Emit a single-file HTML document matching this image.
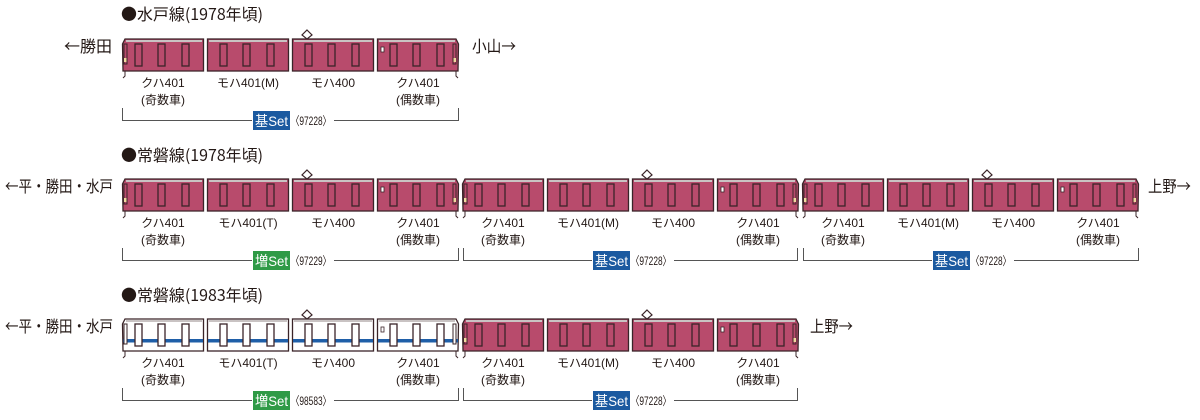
<!DOCTYPE html>
<html><head><meta charset="utf-8"><style>
html,body{margin:0;padding:0;background:#fff;}
svg{display:block;font-family:"Liberation Sans","Noto Sans CJK JP",sans-serif;}
.cjk{font-family:"Noto Sans CJK JP",sans-serif;}
</style></head><body>
<svg width="1200" height="420" viewBox="0 0 1200 420" xmlns="http://www.w3.org/2000/svg">
<defs>
 <g id="wM"><rect x="0" y="6" width="7" height="22" fill="none" stroke="#3a2428" stroke-width="1.3"/></g>
 <g id="wW"><rect x="0" y="6" width="7" height="22" fill="#fff" stroke="#3a2428" stroke-width="1.3"/></g>
 <g id="mMid">
  <rect x="0.5" y="1" width="81" height="32" fill="#b84b6c" stroke="#3a2428" stroke-width="1.3"/>
  <line x1="2" y1="3" x2="80" y2="3" stroke="#c9c3c3" stroke-width="2"/>
  <use href="#wM" x="13"/><use href="#wM" x="36"/><use href="#wM" x="60"/>
 </g>
 <g id="mPant">
  <use href="#mMid"/>
  <polygon points="15,-8 20,-3 15,1 10,-3" fill="#fff" stroke="#3a2428" stroke-width="1.2"/>
 </g>
 <g id="mCabL">
  <path d="M3,1 L81.5,1 L81.5,33 L1,33 L0.5,6 Z" fill="#b84b6c" stroke="#3a2428" stroke-width="1.3"/>
  <line x1="4" y1="3" x2="80" y2="3" stroke="#c9c3c3" stroke-width="2"/>
  <rect x="2" y="6" width="3" height="20" fill="none" stroke="#3a2428" stroke-width="1"/>
  <rect x="2" y="20" width="2.5" height="4" fill="#f2d9a0"/>
  <use href="#wM" x="13"/><use href="#wM" x="36"/><use href="#wM" x="60"/>
  <path d="M3,33 L3,38 L1,40" fill="none" stroke="#3a2428" stroke-width="1"/>
 </g>
 <g id="mCabR">
  <path d="M0.5,1 L79,1 L81.5,6 L81,33 L0.5,33 Z" fill="#b84b6c" stroke="#3a2428" stroke-width="1.3"/>
  <line x1="2" y1="3" x2="78" y2="3" stroke="#c9c3c3" stroke-width="2"/>
  <rect x="4" y="9" width="3" height="5" fill="#fff" stroke="#3a2428" stroke-width="0.8"/>
  <use href="#wM" x="13"/><use href="#wM" x="36"/><use href="#wM" x="60"/>
  <rect x="76" y="6" width="3" height="20" fill="none" stroke="#3a2428" stroke-width="1"/>
  <rect x="76.5" y="20" width="2.5" height="4" fill="#f2d9a0"/>
  <path d="M79,33 L79,38 L81,40" fill="none" stroke="#3a2428" stroke-width="1"/>
 </g>
 <g id="wMid">
  <rect x="0.5" y="1" width="81" height="32" fill="#fff" stroke="#3a2428" stroke-width="1.3"/>
  <line x1="2" y1="3" x2="80" y2="3" stroke="#c9c3c3" stroke-width="2"/>
  <rect x="1" y="21" width="80" height="3.5" fill="#1f5fa8"/>
  <use href="#wW" x="13"/><use href="#wW" x="36"/><use href="#wW" x="60"/>
 </g>
 <g id="wPant">
  <use href="#wMid"/>
  <polygon points="15,-8 20,-3 15,1 10,-3" fill="#fff" stroke="#3a2428" stroke-width="1.2"/>
 </g>
 <g id="wCabL">
  <path d="M3,1 L81.5,1 L81.5,33 L1,33 L0.5,6 Z" fill="#fff" stroke="#3a2428" stroke-width="1.3"/>
  <line x1="4" y1="3" x2="80" y2="3" stroke="#c9c3c3" stroke-width="2"/>
  <rect x="1" y="21" width="80" height="3.5" fill="#1f5fa8"/>
  <rect x="2" y="6" width="3" height="20" fill="#fff" stroke="#3a2428" stroke-width="1"/>
  <use href="#wW" x="13"/><use href="#wW" x="36"/><use href="#wW" x="60"/>
  <path d="M3,33 L3,38 L1,40" fill="none" stroke="#3a2428" stroke-width="1"/>
 </g>
 <g id="wCabR">
  <path d="M0.5,1 L79,1 L81.5,6 L81,33 L0.5,33 Z" fill="#fff" stroke="#3a2428" stroke-width="1.3"/>
  <line x1="2" y1="3" x2="78" y2="3" stroke="#c9c3c3" stroke-width="2"/>
  <rect x="1" y="21" width="80" height="3.5" fill="#1f5fa8"/>
  <rect x="4" y="9" width="3" height="5" fill="#fff" stroke="#3a2428" stroke-width="0.8"/>
  <use href="#wW" x="13"/><use href="#wW" x="36"/><use href="#wW" x="60"/>
  <rect x="76" y="6" width="3" height="20" fill="#fff" stroke="#3a2428" stroke-width="1"/>
  <path d="M79,33 L79,38 L81,40" fill="none" stroke="#3a2428" stroke-width="1"/>
 </g>
</defs>

<g fill="#231815" font-size="16" class="cjk">
 <text x="121" y="20" textLength="142" lengthAdjust="spacingAndGlyphs">●水戸線(1978年頃)</text>
 <text x="121" y="161" textLength="142" lengthAdjust="spacingAndGlyphs">●常磐線(1978年頃)</text>
 <text x="121" y="301" textLength="142" lengthAdjust="spacingAndGlyphs">●常磐線(1983年頃)</text>
 <text x="64" y="52" textLength="48" lengthAdjust="spacingAndGlyphs">←勝田</text>
 <text x="472" y="52" textLength="44" lengthAdjust="spacingAndGlyphs">小山→</text>
 <text x="5" y="192" textLength="108" lengthAdjust="spacingAndGlyphs">←平・勝田・水戸</text>
 <text x="1148" y="192" textLength="43" lengthAdjust="spacingAndGlyphs">上野→</text>
 <text x="5" y="332" textLength="108" lengthAdjust="spacingAndGlyphs">←平・勝田・水戸</text>
 <text x="810" y="332" textLength="43" lengthAdjust="spacingAndGlyphs">上野→</text>
</g>

<use href="#mCabL" x="122" y="38"/><use href="#mMid" x="207" y="38"/><use href="#mPant" x="292" y="38"/><use href="#mCabR" x="377" y="38"/>
<use href="#mCabL" x="122" y="178"/><use href="#mMid" x="207" y="178"/><use href="#mPant" x="292" y="178"/><use href="#mCabR" x="377" y="178"/>
<use href="#mCabL" x="462" y="178"/><use href="#mMid" x="547" y="178"/><use href="#mPant" x="632" y="178"/><use href="#mCabR" x="717" y="178"/>
<use href="#mCabL" x="802" y="178"/><use href="#mMid" x="887" y="178"/><use href="#mPant" x="972" y="178"/><use href="#mCabR" x="1057" y="178"/>
<use href="#wCabL" x="122" y="318"/><use href="#wMid" x="207" y="318"/><use href="#wPant" x="292" y="318"/><use href="#wCabR" x="377" y="318"/>
<use href="#mCabL" x="462" y="318"/><use href="#mMid" x="547" y="318"/><use href="#mPant" x="632" y="318"/><use href="#mCabR" x="717" y="318"/>

<g fill="#231815" font-size="12" text-anchor="middle">
 <text x="163" y="87">クハ401</text><text x="163" y="104">(奇数車)</text>
 <text x="248" y="87">モハ401(M)</text>
 <text x="333" y="87">モハ400</text>
 <text x="418" y="87">クハ401</text><text x="418" y="104">(偶数車)</text>

 <text x="163" y="227">クハ401</text><text x="163" y="244">(奇数車)</text>
 <text x="248" y="227">モハ401(T)</text>
 <text x="333" y="227">モハ400</text>
 <text x="418" y="227">クハ401</text><text x="418" y="244">(偶数車)</text>
 <text x="503" y="227">クハ401</text><text x="503" y="244">(奇数車)</text>
 <text x="588" y="227">モハ401(M)</text>
 <text x="673" y="227">モハ400</text>
 <text x="758" y="227">クハ401</text><text x="758" y="244">(偶数車)</text>
 <text x="843" y="227">クハ401</text><text x="843" y="244">(奇数車)</text>
 <text x="928" y="227">モハ401(M)</text>
 <text x="1013" y="227">モハ400</text>
 <text x="1098" y="227">クハ401</text><text x="1098" y="244">(偶数車)</text>

 <text x="163" y="367">クハ401</text><text x="163" y="384">(奇数車)</text>
 <text x="248" y="367">モハ401(T)</text>
 <text x="333" y="367">モハ400</text>
 <text x="418" y="367">クハ401</text><text x="418" y="384">(偶数車)</text>
 <text x="503" y="367">クハ401</text><text x="503" y="384">(奇数車)</text>
 <text x="588" y="367">モハ401(M)</text>
 <text x="673" y="367">モハ400</text>
 <text x="758" y="367">クハ401</text><text x="758" y="384">(偶数車)</text>
</g>

<g fill="none" stroke="#555" stroke-width="1">
 <path d="M122.5,108 V120.5 H252 M334,120.5 H458.5 V108"/>
 <path d="M122.5,248 V260.5 H252 M334,260.5 H458.5 V248"/>
 <path d="M463.5,248 V260.5 H592 M674,260.5 H797.5 V248"/>
 <path d="M803.5,248 V260.5 H932 M1014,260.5 H1138.5 V248"/>
 <path d="M122.5,388 V400.5 H252 M334,400.5 H458.5 V388"/>
 <path d="M463.5,388 V400.5 H592 M674,400.5 H797.5 V388"/>
</g>
<g font-size="14">
 <rect x="253" y="111" width="37" height="19" fill="#1b5aa0"/><text x="255" y="126" fill="#fff" textLength="33" lengthAdjust="spacingAndGlyphs">基Set</text>
 <text x="291" y="125" fill="#231815" font-size="12" textLength="40" lengthAdjust="spacingAndGlyphs">〈97228〉</text>

 <rect x="253" y="251" width="37" height="19" fill="#2f9a46"/><text x="255" y="266" fill="#fff" textLength="33" lengthAdjust="spacingAndGlyphs">増Set</text>
 <text x="291" y="265" fill="#231815" font-size="12" textLength="40" lengthAdjust="spacingAndGlyphs">〈97229〉</text>
 <rect x="593" y="251" width="37" height="19" fill="#1b5aa0"/><text x="595" y="266" fill="#fff" textLength="33" lengthAdjust="spacingAndGlyphs">基Set</text>
 <text x="631" y="265" fill="#231815" font-size="12" textLength="40" lengthAdjust="spacingAndGlyphs">〈97228〉</text>
 <rect x="933" y="251" width="37" height="19" fill="#1b5aa0"/><text x="935" y="266" fill="#fff" textLength="33" lengthAdjust="spacingAndGlyphs">基Set</text>
 <text x="971" y="265" fill="#231815" font-size="12" textLength="40" lengthAdjust="spacingAndGlyphs">〈97228〉</text>

 <rect x="253" y="391" width="37" height="19" fill="#2f9a46"/><text x="255" y="406" fill="#fff" textLength="33" lengthAdjust="spacingAndGlyphs">増Set</text>
 <text x="291" y="405" fill="#231815" font-size="12" textLength="40" lengthAdjust="spacingAndGlyphs">〈98583〉</text>
 <rect x="593" y="391" width="37" height="19" fill="#1b5aa0"/><text x="595" y="406" fill="#fff" textLength="33" lengthAdjust="spacingAndGlyphs">基Set</text>
 <text x="631" y="405" fill="#231815" font-size="12" textLength="40" lengthAdjust="spacingAndGlyphs">〈97228〉</text>
</g>
</svg>
</body></html>
